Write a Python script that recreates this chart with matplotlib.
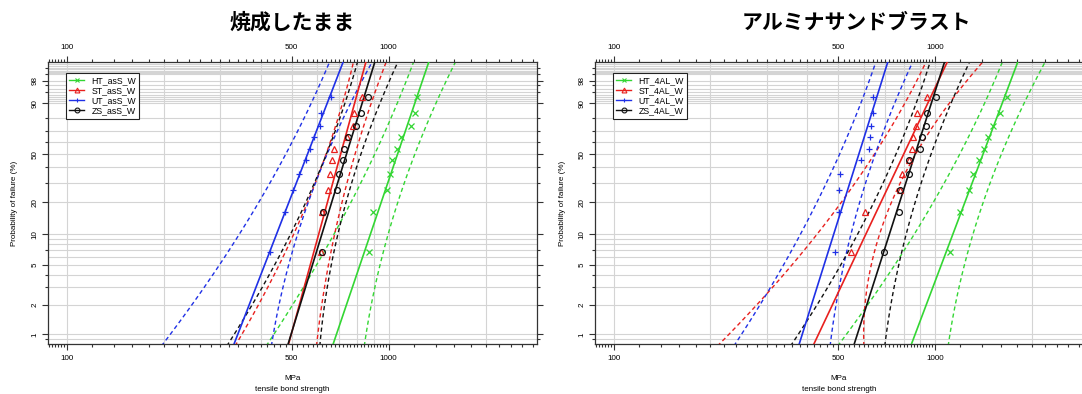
import numpy as np
import matplotlib
matplotlib.use('Agg')
import matplotlib.pyplot as plt
from matplotlib.ticker import FixedLocator, LogLocator, NullFormatter, FixedFormatter
from matplotlib.lines import Line2D

plt.rcParams['font.family'] = ['Liberation Sans', 'DejaVu Sans']

# ---------------- data ----------------
titles = ['焼成したまま', 'アルミナサンドブラスト']
labels_asS = ['HT_asS_W', 'ST_asS_W', 'UT_asS_W', 'ZS_asS_W']
labels_4AL = ['HT_4AL_W', 'ST_4AL_W', 'UT_4AL_W', 'ZS_4AL_W']

# sorted tensile bond strengths (MPa), 10 specimens each
asS_HT = [867, 892, 986, 1009, 1026, 1061, 1092, 1170, 1207, 1222]
asS_ST = [616, 621, 649, 657, 668, 676, 741, 775, 780, 824]
asS_UT = [427, 477, 503, 525, 553, 569, 587, 613, 616, 662]
asS_ZS = [622, 627, 693, 703, 723, 728, 746, 790, 820, 864]

AL_HT = [1113, 1196, 1275, 1310, 1373, 1423, 1464, 1518, 1592, 1671]
AL_ST = [547, 607, 778, 791, 830, 846, 852, 871, 881, 942]
AL_UT = [489, 501, 502, 507, 589, 625, 628, 632, 640, 640]
AL_ZS = [696, 773, 781, 832, 833, 895, 909, 936, 942, 1005]

# Weibull fit (shape m, scale eta in MPa)
asS_fit_HT = (9.7, 1106)
asS_fit_ST = (12.0, 731)
asS_fit_UT = (8.5, 584)
asS_fit_ZS = (10.7, 765)
AL_fit_HT = (8.71, 1471)
AL_fit_ST = (6.94, 842)
AL_fit_UT = (10.45, 600)
AL_fit_ZS = (10.25, 898)

# confidence bounds (MPa) read at these failure probabilities (%)
bound_p = [0.8, 5, 20, 63.2, 90, 99.75]
asS_lo_HT = [420, 596, 775, 940, 1054, 1204]
asS_hi_HT = [844, 945, 1035, 1291, 1420, 1584]
asS_lo_ST = [337, 452, 569, 660, 713, 781]
asS_hi_ST = [598, 653, 706, 820, 889, 974]
asS_lo_UT = [199, 297, 401, 502, 569, 660]
asS_hi_UT = [433, 494, 550, 684, 768, 879]
asS_lo_ZS = [318, 437, 563, 664, 725, 804]
asS_hi_ZS = [612, 668, 723, 862, 948, 1057]

AL_lo_HT = [505, 740, 1007, 1254, 1415, 1627]
AL_hi_HT = [1100, 1249, 1380, 1706, 1911, 2179]
AL_lo_ST = [215, 350, 525, 692, 797, 940]
AL_hi_ST = [592, 660, 714, 915, 1118, 1410]
AL_lo_UT = [240, 332, 439, 526, 583, 657]
AL_hi_UT = [472, 525, 572, 684, 755, 845]
AL_lo_ZS = [359, 504, 661, 780, 865, 974]
AL_hi_ZS = [699, 778, 848, 1027, 1132, 1267]

x_major = [100, 500, 1000]
y_major = [1, 2, 5, 10, 20, 50, 90, 98]
y_minor = [0.9, 3, 4, 7, 30, 40, 60, 70, 80, 95, 97, 99, 99.5]
y_grid = ([0.8, 0.9] + list(range(1, 10)) + list(range(10, 100, 10)) +
          list(range(91, 100)) + [99.1, 99.2, 99.3, 99.4, 99.5, 99.6, 99.7])
x_grid = [100, 200, 300, 400, 500, 600, 700, 800, 900, 1000, 2000]

colors = ['#33d633', '#e8201e', '#1f30e6', '#111111']
markers = ['x', '^', '+', 'o']

# ---------------- helpers ----------------
def fwd(p):
    p = np.clip(np.asarray(p, dtype=float), 1e-9, 100 - 1e-9)
    return np.log(-np.log(1 - p / 100.0))

def inv(w):
    return 100.0 * (1 - np.exp(-np.exp(np.asarray(w, dtype=float))))

XLIM = (87.5, 2888)
YLIM = (0.797, 99.77)

def smooth_bound(vals):
    """Smooth drawing path through the read bound values (Weibull space)."""
    w = fwd(bound_p)
    lx = np.log(np.asarray(vals, dtype=float))
    c = np.polyfit(w, lx, 2)
    ww = np.linspace(fwd(YLIM[0]) - 0.05, fwd(YLIM[1]) + 0.05, 80)
    return np.exp(np.polyval(c, ww)), inv(ww)

def panel(ax, data, fits, lows, highs, labels):
    ax.set_xscale('log')
    ax.set_yscale('function', functions=(fwd, inv))
    ax.set_xlim(*XLIM)
    ax.set_ylim(*YLIM)
    for g in x_grid:
        ax.axvline(g, color='#d4d4d4', lw=0.8, zorder=0)
    for g in y_grid:
        ax.axhline(g, color='#d4d4d4', lw=0.8, zorder=0)
    handles = []
    for i in range(4):
        c = colors[i]
        for b in (lows[i], highs[i]):
            bx, by = smooth_bound(b)
            ax.plot(bx, by, color=c, lw=1.0, ls=(0, (3, 2.2)), zorder=2)
        m, eta = fits[i]
        pl = np.array([YLIM[0] * 0.98, 99.8])
        xl = eta * (-np.log(1 - pl / 100.0)) ** (1.0 / m)
        ax.plot(xl, pl, color=c, lw=1.2, zorder=3)
        n = len(data[i])
        ranks = np.arange(1, n + 1)
        pp = (ranks - 0.3) / (n + 0.4) * 100
        if markers[i] in ('^', 'o'):
            ax.plot(data[i], pp, ls='none', marker=markers[i], ms=4.2,
                    mfc='none', mec=c, mew=0.9, zorder=4)
        else:
            ax.plot(data[i], pp, ls='none', marker=markers[i], ms=4.6,
                    mec=c, mew=0.9, zorder=4)
        handles.append(Line2D([], [], color=c, lw=1.0, marker=markers[i],
                              ms=3.5, mfc='none', mec=c, mew=0.8))
    ax.xaxis.set_major_locator(FixedLocator(x_major))
    ax.xaxis.set_major_formatter(FixedFormatter([str(v) for v in x_major]))
    ax.xaxis.set_minor_locator(LogLocator(base=10, subs=np.arange(1.0, 10.0, 0.2), numticks=50))
    ax.xaxis.set_minor_formatter(NullFormatter())
    ax.yaxis.set_major_locator(FixedLocator(y_major))
    ax.yaxis.set_major_formatter(FixedFormatter([str(v) for v in y_major]))
    ax.yaxis.set_minor_locator(FixedLocator(y_minor))
    ax.yaxis.set_minor_formatter(NullFormatter())
    ax.tick_params(which='both', direction='out', top=True, right=True,
                   labeltop=True, labelbottom=True, labelright=False,
                   colors='#333333', labelcolor='black', labelsize=5.8, width=0.8)
    ax.tick_params(which='major', length=4, pad=4)
    ax.tick_params(which='minor', length=2.2)
    ax.tick_params(axis='y', labelrotation=90, pad=3)
    for lab in ax.get_yticklabels():
        lab.set_va('center')
    for s in ax.spines.values():
        s.set_color('#333333')
        s.set_linewidth(0.9)
    leg = ax.legend(handles, labels, loc='upper left', bbox_to_anchor=(0.036, 0.96),
                    fontsize=6.3, frameon=True, fancybox=False, framealpha=1,
                    edgecolor='#222222', handlelength=1.8, handletextpad=0.8,
                    labelspacing=0.12, borderpad=0.35, borderaxespad=0.0)
    leg.get_frame().set_linewidth(0.8)
    leg.set_zorder(6)

W, H = 1082, 394
fig = plt.figure(figsize=(W / 100, H / 100), dpi=100)

axL = fig.add_axes([48 / W, 1 - 344 / H, 489 / W, 282 / H])
axR = fig.add_axes([595 / W, 1 - 344 / H, 488 / W, 282 / H])

panel(axL, [asS_HT, asS_ST, asS_UT, asS_ZS],
      [asS_fit_HT, asS_fit_ST, asS_fit_UT, asS_fit_ZS],
      [asS_lo_HT, asS_lo_ST, asS_lo_UT, asS_lo_ZS],
      [asS_hi_HT, asS_hi_ST, asS_hi_UT, asS_hi_ZS], labels_asS)
panel(axR, [AL_HT, AL_ST, AL_UT, AL_ZS],
      [AL_fit_HT, AL_fit_ST, AL_fit_UT, AL_fit_ZS],
      [AL_lo_HT, AL_lo_ST, AL_lo_UT, AL_lo_ZS],
      [AL_hi_HT, AL_hi_ST, AL_hi_UT, AL_hi_ZS], labels_4AL)

cjk = ['Noto Sans CJK JP', 'DejaVu Sans']
fig.text(292 / W, 1 - 22 / H, titles[0], ha='center', va='center',
         fontsize=15, fontweight='bold', family=cjk)
fig.text(856 / W, 1 - 22 / H, titles[1], ha='center', va='center',
         fontsize=15, fontweight='bold', family=cjk)

for cx, ylx in [(292.5, 15), (839, 562)]:
    fig.text(cx / W, 1 - 379 / H, 'MPa', ha='center', va='center', fontsize=5.8)
    fig.text(cx / W, 1 - 389.5 / H, 'tensile bond strength', ha='center', va='center', fontsize=5.8)
    fig.text(ylx / W, 1 - 203 / H, 'Probability of failure (%)', ha='center', va='center',
             rotation=90, fontsize=5.8)

fig.savefig('out.png', dpi=100)
